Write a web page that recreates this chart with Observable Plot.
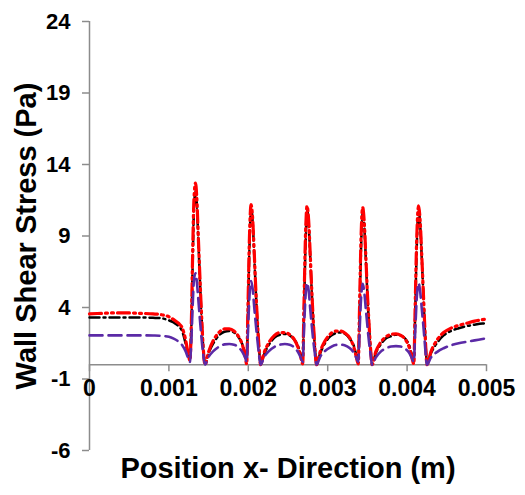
<!DOCTYPE html>
<html>
<head>
<meta charset="utf-8">
<script src="https://cdn.jsdelivr.net/npm/d3@7"></script>
<script src="https://cdn.jsdelivr.net/npm/@observablehq/plot@0.6"></script>
<style>
  html, body { margin: 0; padding: 0; background: #fff; }
</style>
</head>
<body>
<div id="chart"></div>
<script>
// Position along x (m)
const xPos = [
  0, 0.0001, 0.0002, 0.0003, 0.0004, 0.0005, 0.0006, 0.0007, 0.0008, 0.0009, 0.001, 0.00106, 0.00112, 0.00117, 0.00121, 0.00124, 0.001265,
  0.001285, 0.0013, 0.001315, 0.001335, 0.00135, 0.00137, 0.00139, 0.00141, 0.00143, 0.001455,
  0.0015, 0.00156, 0.00163, 0.0017, 0.00176, 0.00182, 0.00188, 0.00193, 0.00196, 0.00198,
  0.001995, 0.002015, 0.002035, 0.002055, 0.002075, 0.002095, 0.002115, 0.002135, 0.002155,
  0.0022, 0.00226, 0.00233, 0.0024, 0.00246, 0.00252, 0.00258, 0.00263, 0.00266, 0.002685,
  0.0027, 0.00272, 0.00274, 0.00276, 0.00278, 0.0028, 0.00282, 0.00284, 0.00286,
  0.002905, 0.002965, 0.003035, 0.0031, 0.00316, 0.00322, 0.00328, 0.00333, 0.00336, 0.003385,
  0.0034, 0.00342, 0.00344, 0.00346, 0.00348, 0.0035, 0.00352, 0.00354, 0.00356,
  0.003605, 0.003665, 0.003735, 0.0038, 0.00386, 0.00392, 0.00398, 0.00403, 0.00406, 0.004085,
  0.0041, 0.00412, 0.004145, 0.004165, 0.004185, 0.004205, 0.00422, 0.004235, 0.00425,
  0.0043, 0.00438, 0.00446, 0.00455, 0.00465, 0.00475, 0.00485, 0.00495, 0.005
];
// Wall shear stress (Pa), red dash-dot-dot series
const redSeries = [
  3.55, 3.58, 3.6, 3.62, 3.62, 3.62, 3.6, 3.58, 3.55, 3.5, 3.35, 3.15, 2.9, 2.55, 1.75, 0.85, 0.3,
  3.5, 8.0, 11.5, 12.7, 11.8, 9.0, 6.2, 3.6, 1.4, 0,
  0.9, 1.7, 2.25, 2.5, 2.5, 2.35, 1.95, 1.3, 0.6, 0.05,
  3.8, 9.0, 11.2, 10.2, 7.8, 5.2, 3.0, 1.2, 0,
  0.85, 1.55, 2.05, 2.25, 2.25, 2.1, 1.75, 1.15, 0.55, 0.05,
  3.8, 9.0, 11.1, 10.1, 7.7, 5.1, 2.9, 1.1, 0,
  0.9, 1.65, 2.15, 2.35, 2.35, 2.2, 1.85, 1.2, 0.55, 0.05,
  3.7, 8.9, 11.0, 10.0, 7.6, 5.0, 2.9, 1.1, 0,
  0.9, 1.55, 1.95, 2.12, 2.15, 2.05, 1.75, 1.15, 0.5, 0.05,
  3.6, 8.6, 11.1, 10.0, 7.6, 5.0, 3.0, 1.2, 0,
  0.9, 1.75, 2.25, 2.55, 2.75, 2.9, 3.05, 3.15, 3.2
];
// black dash-dot series
const blackSeries = [
  3.3, 3.3, 3.3, 3.3, 3.3, 3.3, 3.3, 3.3, 3.28, 3.25, 3.1, 2.95, 2.7, 2.3, 1.5, 0.8, 0.4,
  3.0, 7.2, 10.8, 12.1, 11.4, 8.8, 6.0, 3.5, 1.4, 0.05,
  0.8, 1.5, 2.05, 2.3, 2.35, 2.25, 1.9, 1.35, 0.75, 0.3,
  3.3, 8.3, 10.9, 10.0, 7.6, 5.1, 2.9, 1.2, 0.05,
  0.75, 1.4, 1.9, 2.1, 2.15, 2.05, 1.75, 1.25, 0.7, 0.3,
  3.3, 8.2, 10.8, 9.9, 7.5, 5.0, 2.8, 1.1, 0.05,
  0.8, 1.5, 2.0, 2.2, 2.25, 2.15, 1.8, 1.3, 0.7, 0.3,
  3.2, 8.1, 10.8, 9.8, 7.4, 4.9, 2.8, 1.1, 0.05,
  0.8, 1.4, 1.85, 2.0, 2.1, 2.05, 1.8, 1.3, 0.7, 0.35,
  3.1, 7.9, 10.9, 9.8, 7.4, 4.9, 2.9, 1.2, 0.1,
  0.8, 1.55, 2.05, 2.35, 2.55, 2.7, 2.8, 2.88, 2.9
];
// purple dashed series
const purpleSeries = [
  2.05, 2.05, 2.05, 2.05, 2.05, 2.05, 2.05, 2.05, 2.04, 2.02, 1.95, 1.82, 1.62, 1.35, 0.95, 0.5, 0.2,
  2.0, 4.2, 5.9, 6.4, 5.9, 4.6, 3.2, 1.9, 0.8, 0,
  0.55, 0.95, 1.25, 1.42, 1.45, 1.4, 1.2, 0.85, 0.5, 0.2,
  2.2, 4.8, 5.85, 5.3, 4.0, 2.8, 1.7, 0.7, 0,
  0.55, 0.95, 1.25, 1.4, 1.45, 1.4, 1.2, 0.85, 0.5, 0.2,
  2.2, 4.7, 5.7, 5.2, 3.9, 2.7, 1.6, 0.7, 0,
  0.55, 0.95, 1.22, 1.38, 1.4, 1.35, 1.15, 0.82, 0.48, 0.2,
  2.1, 4.6, 5.65, 5.1, 3.9, 2.7, 1.6, 0.7, 0,
  0.5, 0.9, 1.15, 1.27, 1.3, 1.27, 1.1, 0.8, 0.45, 0.2,
  2.0, 4.5, 5.7, 5.1, 3.9, 2.7, 1.7, 0.7, 0,
  0.5, 0.9, 1.15, 1.35, 1.5, 1.6, 1.7, 1.8, 1.85
];

const xTicks = [0, 0.001, 0.002, 0.003, 0.004, 0.005];
const xTickLabels = ["0", "0.001", "0.002", "0.003", "0.004", "0.005"];
const yTicks = [-6, -1, 4, 9, 14, 19, 24];
const yTickLabels = ["-6", "-1", "4", "9", "14", "19", "24"];
const xTitle = "Position x- Direction (m)";
const yTitle = "Wall Shear Stress (Pa)";

const toRows = (ys) => xPos.map((x, i) => ({x, y: ys[i]}));
const black = toRows(blackSeries);
const red = toRows(redSeries);
const purple = toRows(purpleSeries);

const font = "'Liberation Sans', Arial, sans-serif";
const axisGray = "#8c8c8c";

const chart = Plot.plot({
  width: 525,
  height: 495,
  marginLeft: 89,
  marginRight: 39,
  marginTop: 21,
  marginBottom: 45,
  style: {fontFamily: font, background: "#fff", color: "#000"},
  x: {domain: [0, 0.005], axis: null},
  y: {domain: [-6, 24], axis: null},
  marks: [
    // y axis line, ticks and labels
    Plot.ruleX([0], {y1: () => -6, y2: () => 24, stroke: axisGray, strokeWidth: 1.5}),
    Plot.ruleY(yTicks, {y: (d) => d, x1: () => 0, x2: () => 0, insetLeft: -7, stroke: axisGray, strokeWidth: 1.5}),
    Plot.text(yTicks, {
      x: () => 0, y: (d) => d, dx: -19, textAnchor: "end",
      text: (d, i) => yTickLabels[i],
      fontSize: 22, fontWeight: "bold", fill: "#000"
    }),
    // x axis line at y = 0
    Plot.ruleY([0], {x1: () => 0, x2: () => 0.005, stroke: axisGray, strokeWidth: 1.5}),
    Plot.ruleX(xTicks, {x: (d) => d, y1: () => 0, y2: () => 0, insetBottom: -7, stroke: axisGray, strokeWidth: 1.5}),
    Plot.text(xTicks, {
      x: (d) => d, y: () => 0, dy: 24,
      text: (d, i) => xTickLabels[i],
      fontSize: 23, fontWeight: "bold", fill: "#000"
    }),
    // series
    Plot.line(black, {x: "x", y: "y", stroke: "#000", strokeWidth: 2.5, strokeDasharray: "10,4,2,4", curve: "monotone-x"}),
    Plot.line(red, {x: "x", y: "y", stroke: "#ff0000", strokeWidth: 3.2, strokeDasharray: "12,4,2,4,2,4", curve: "monotone-x"}),
    Plot.line(purple, {x: "x", y: "y", stroke: "#5b2aa6", strokeWidth: 2.6, strokeDasharray: "13,6", curve: "monotone-x"}),
    // titles
    Plot.text([xTitle], {frameAnchor: "bottom", dy: 18, lineAnchor: "middle", textAnchor: "middle", fontSize: 29, fontWeight: "bold", fill: "#000"}),
    Plot.text([yTitle], {frameAnchor: "left", rotate: -90, dx: -63, lineAnchor: "middle", textAnchor: "middle", fontSize: 29, fontWeight: "bold", fill: "#000"})
  ]
});
document.getElementById("chart").appendChild(chart);
</script>
</body>
</html>
